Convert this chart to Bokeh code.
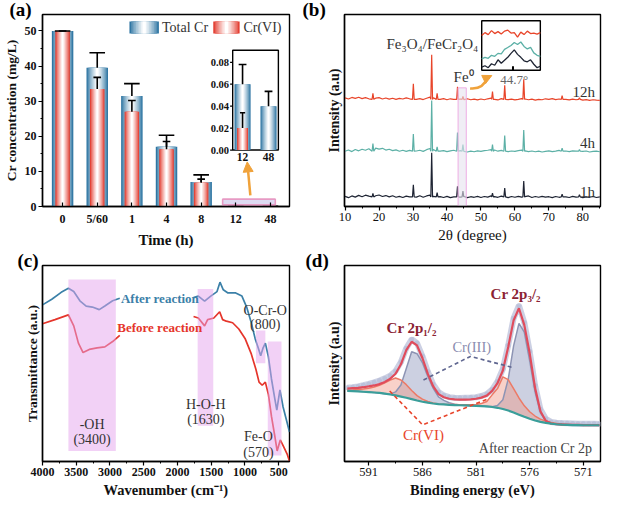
from bokeh.plotting import figure
from bokeh.layouts import gridplot
from bokeh.models import Range1d, FixedTicker, Title, Arrow, NormalHead
from bokeh.core.properties import value
from bokeh.embed import file_html
from bokeh.resources import INLINE

NAN = float("nan")
SERIF = "Liberation Serif"

# ---------------- (a) Cr removal ----------------
time_labels = ["0", "5/60", "1", "4", "8", "12", "48"]
total_cr = [50.0, 39.5, 31.5, 17.0, 7.0, 0.06, 0.04]
total_cr_err = [0.0, 4.3, 3.5, 3.3, 2.0, 0.018, 0.0135]
cr6 = [50.0, 33.5, 27.0, 16.3, 6.8, 0.02, 0.0]
cr6_err = [0.0, 3.3, 3.2, 2.2, 1.0, 0.014, 0.0]
conc_ticks = [0, 10, 20, 30, 40, 50]
conc_minor = [5, 15, 25, 35, 45]
inset_ticks = [0.0, 0.02, 0.04, 0.06, 0.08]
inset_tick_labels = ["0.00", "0.02", "0.04", "0.06", "0.08"]
inset_times = ["12", "48"]

# ---------------- (b) XRD ----------------
two_theta_grid = list(range(10, 86))
xrd_1h_base = [5.3, 4.6, 5.5, 4.9, 5.8, 5.1, 5.9, 5.4, 6.2, 5.6,
               6.0, 5.2, 5.7, 5.0, 5.6, 4.8, 5.3, 4.7, 5.4, 5.0,
               5.2, 4.9, 5.6, 4.8, 5.5, 5.9, 5.3, 5.8, 5.1, 4.7,
               5.3, 4.6, 5.0, 5.4, 4.9, 5.2, 4.6, 5.1, 4.8, 5.3,
               4.7, 5.2, 4.9, 5.5, 5.1, 4.8, 5.4, 5.0, 4.6, 5.2,
               4.8, 5.3, 4.9, 5.1, 5.5, 4.7, 5.2, 4.8, 5.3, 4.9,
               5.1, 4.6, 5.2, 4.8, 5.4, 5.0, 4.7, 5.3, 4.9, 5.1,
               4.6, 5.0, 4.8, 5.2, 4.7, 5.0]
xrd_4h_base = [5.0, 5.6, 4.8, 5.9, 5.2, 6.0, 5.5, 6.3, 5.8, 6.6,
               6.1, 6.5, 5.6, 6.0, 5.3, 5.7, 5.0, 5.5, 4.9, 5.4,
               5.6, 5.1, 5.5, 4.9, 5.8, 6.4, 5.9, 5.4, 5.0, 5.3,
               4.8, 5.2, 5.5, 5.0, 5.3, 4.9, 4.6, 5.0, 4.7, 5.2,
               4.9, 5.3, 5.5, 5.8, 5.6, 5.0, 5.4, 5.6, 4.8, 5.1,
               4.9, 5.3, 5.6, 5.2, 4.8, 5.1, 4.7, 5.0, 4.6, 4.9,
               5.2, 4.8, 5.0, 5.4, 5.6, 5.1, 4.8, 5.2, 5.0, 5.3,
               4.9, 5.1, 4.6, 4.9, 5.0, 4.7]
xrd_12h_base = [5.8, 5.2, 6.0, 5.5, 6.1, 5.4, 5.9, 5.3, 6.2, 5.6,
                5.9, 5.2, 5.7, 5.1, 5.6, 5.0, 5.5, 5.2, 5.8, 5.3,
                5.5, 5.0, 5.4, 4.9, 5.6, 6.2, 5.8, 5.3, 5.0, 5.4,
                4.8, 5.3, 5.0, 5.6, 5.2, 4.9, 5.3, 4.8, 5.1, 4.7,
                5.2, 4.8, 5.3, 5.6, 5.0, 4.7, 5.4, 5.5, 4.9, 5.1,
                4.7, 5.0, 5.4, 5.2, 4.8, 5.1, 4.6, 5.0, 4.8, 5.3,
                5.0, 5.4, 4.9, 5.2, 5.7, 5.0, 4.7, 5.1, 4.8, 5.2,
                4.6, 4.9, 4.5, 4.8, 4.6, 4.5]
xrd_peak_pos = [18.2, 30.1, 35.5, 37.1, 43.1, 44.7, 53.4, 57.0, 62.6, 73.9, 79.0]
xrd_1h_peaks = [6.8, 11.3, 28.0, 7.2, 10.5, 8.0, 6.9, 9.6, 13.3, 6.4, 6.1]
xrd_4h_peaks = [9.0, 13.9, 31.4, 7.2, 14.7, 8.5, 8.5, 13.1, 16.0, 6.6, 5.9]
xrd_12h_peaks = [8.2, 13.1, 28.2, 8.2, 11.5, 6.6, 9.1, 12.3, 15.5, 6.9, 5.8]
xrd_peak_foot = 5.0
xrd_labels = ["1h", "4h", "12h"]
theta_ticks = [10, 20, 30, 40, 50, 60, 70, 80]
theta_minor = [15, 25, 35, 45, 55, 65, 75, 85]
# zoomed view around Fe0 (44.7 deg)
inset_theta = [42.30, 42.55, 42.80, 43.05, 43.30, 43.55, 43.80, 44.05, 44.30, 44.55,
               44.80, 45.05, 45.30, 45.55, 45.80, 46.05, 46.30, 46.55, 46.80]
inset_12h = [7.0, 7.6, 7.2, 8.0, 7.4, 7.8, 7.3, 7.9, 8.1, 7.5,
             7.6, 6.7, 7.7, 7.2, 7.9, 7.4, 7.5, 7.3, 7.6]
inset_4h = [2.3, 2.6, 2.4, 3.0, 2.8, 3.4, 3.3, 4.2, 4.6, 5.0,
            5.6, 5.2, 5.7, 4.8, 4.3, 4.6, 3.5, 3.0, 2.8]
inset_1h = [0.6, 0.9, 0.5, 1.3, 1.0, 2.1, 1.4, 2.0, 2.6, 3.4,
            4.1, 3.2, 2.6, 1.9, 1.7, 2.1, 1.2, 0.5, 0.8]

# ---------------- (c) FTIR ----------------
ftir_after_x = [4000, 3862, 3723, 3616, 3537, 3446, 3353, 3261, 3159, 3076, 2961, 2855, NAN,
                1762, 1691, 1598, 1507, 1414, 1370, 1321, 1252, 1137, 1045, 975, 906, 850,
                804, 767, 731, 698, 652, 607, 560, 528, 482, 435, 375, 340]
ftir_after_y = [79.9, 82.8, 86.3, 88.4, 86.7, 82.0, 79.3, 78.8, 77.5, 79.3, 82.0, 83.3, NAN,
                83.6, 84.4, 81.8, 84.4, 86.7, 91.5, 87.6, 86.0, 86.0, 84.4, 78.8, 70.8, 62.8,
                58.0, 54.0, 58.0, 60.4, 53.3, 42.1, 32.5, 26.2, 36.5, 27.8, 19.8, 15.0]
ftir_before_x = [4000, 3815, 3616, 3537, 3468, 3399, 3307, 3191, 3076, 2961, 2855, NAN,
                 1762, 1691, 1598, 1553, 1461, 1375, 1331, 1276, 1183, 1091, 999, 906, 837,
                 791, 745, 698, 652, 607, 560, 523, 477, 431, 375, 340]
ftir_before_y = [70.3, 72.4, 74.8, 69.2, 60.4, 55.6, 57.2, 58.0, 58.5, 61.2, 64.4, NAN,
                 74.0, 73.2, 69.2, 72.4, 73.2, 76.4, 72.4, 71.6, 70.8, 67.6, 62.8, 54.9, 46.9,
                 40.5, 38.9, 40.5, 34.1, 23.0, 13.4, 5.4, 11.0, 7.8, 3.8, 0.2]
wn_ticks = [4000, 3500, 3000, 2500, 2000, 1500, 1000, 500]
wn_minor = [3750, 3250, 2750, 2250, 1750, 1250, 750]
band_names = [["-OH", "(3400)"], ["H-O-H", "(1630)"], ["O-Cr-O", "(800)"], ["Fe-O", "(570)"]]
band_left = [3616, 1701, 837, 662]
band_right = [2914, 1470, 698, 459]
band_bottom = [5.4, 18.2, 50.1, 3.0]
band_top = [92.8, 88.0, 66.8, 61.2]

# ---------------- (d) XPS Cr 2p ----------------
be = [593.0, 592.5, 592.0, 591.5, 591.0, 590.5, 590.0, 589.5, 589.0, 588.5,
      588.0, 587.5, 587.0, 586.5, 586.0, 585.5, 585.0, 584.5, 584.0, 583.5,
      583.0, 582.5, 582.0, 581.5, 581.0, 580.5, 580.0, 579.5, 579.0, 578.5,
      578.0, 577.5, 577.0, 576.5, 576.0, 575.5, 575.0, 574.5, 574.0, 573.5,
      573.0, 572.5, 572.0, 571.5, 571.0, 570.5, 570.0, 569.5]
xps_raw = [37.6, 37.9, 38.3, 38.9, 39.6, 40.4, 41.3, 42.4, 43.8, 46.2,
           50.8, 57.8, 62.4, 60.4, 53.8, 45.9, 39.4, 35.5, 33.7, 32.8,
           32.5, 32.4, 32.5, 32.6, 32.8, 33.4, 34.4, 36.7, 40.8, 47.2,
           59.3, 73.1, 79.6, 70.9, 56.2, 38.8, 26.7, 21.8, 20.2, 19.8,
           19.6, 19.5, 19.4, 19.3, 19.3, 19.2, 19.2, 19.1]
xps_envelope = [37.2, 37.4, 37.6, 37.9, 38.3, 38.8, 39.5, 40.6, 42.2, 44.8,
                49.6, 56.8, 61.1, 59.2, 52.8, 44.8, 38.4, 34.4, 32.8, 32.0,
                31.7, 31.6, 31.6, 31.7, 32.0, 32.6, 33.6, 36.0, 40.0, 46.4,
                58.4, 72.0, 78.2, 69.6, 55.2, 37.6, 25.6, 20.8, 19.4, 19.0,
                18.9, 18.8, 18.7, 18.7, 18.6, 18.6, 18.6, 18.6]
xps_cr3 = [36.0, 35.9, 35.8, 35.6, 35.4, 35.2, 35.0, 34.6, 34.4, 35.5,
           39.0, 47.5, 56.0, 55.0, 50.5, 43.5, 37.5, 33.0, 31.2, 30.0,
           29.2, 28.8, 28.6, 28.5, 28.4, 28.3, 28.1, 28.0, 28.6, 31.5,
           42.0, 59.0, 70.5, 66.0, 51.5, 35.5, 24.8, 20.6, 19.6, 19.0,
           18.8, 18.7, 18.6, 18.6, 18.5, 18.5, 18.5, 18.5]
xps_cr6 = [36.4, 36.5, 36.7, 37.0, 37.4, 38.0, 38.9, 40.2, 41.5, 42.6,
           41.6, 39.2, 36.2, 33.6, 31.8, 30.6, 29.9, 29.4, 29.2, 29.1,
           29.1, 29.0, 29.0, 29.0, 29.1, 29.6, 30.6, 34.0, 37.2, 43.2,
           41.8, 37.2, 32.4, 28.4, 25.4, 23.2, 21.6, 20.6, 19.9, 19.4,
           18.9, 18.7, 18.6, 18.6, 18.5, 18.5, 18.5, 18.5]
xps_background = [36.0, 35.9, 35.8, 35.6, 35.4, 35.2, 35.0, 34.6, 34.2, 33.7,
                  33.1, 32.5, 31.8, 31.1, 30.5, 30.0, 29.6, 29.3, 29.1, 28.9,
                  28.8, 28.7, 28.6, 28.5, 28.4, 28.3, 28.1, 27.8, 27.4, 26.8,
                  26.0, 25.0, 23.9, 22.8, 21.8, 20.9, 20.2, 19.7, 19.3, 19.0,
                  18.8, 18.7, 18.6, 18.6, 18.5, 18.5, 18.5, 18.5]
be_ticks = [591, 586, 581, 576, 571]
be_minor = [593.5, 588.5, 583.5, 578.5, 573.5]
cr3_pointer_x = [585.9, 581.53, 577.6]
cr3_pointer_y = [41.6, 53.6, 48.0]
cr6_pointer_x = [589.05, 585.98, 579.88]
cr6_pointer_y = [36.0, 18.7, 32.0]

# ---------------- colours ----------------
BLUE = "#2f76a3"
RED = "#e23b2e"
ORANGE = "#f0a23a"
C1H, C4H, C12H = "#1e2433", "#5cb0a6", "#e8452a"
FT_BLUE, FT_RED = "#3b80a8", "#e5352b"
BAND = "#e6a4ee"


def mix(c1, c2, t):
    a = [int(c1[i:i + 2], 16) for i in (1, 3, 5)]
    b = [int(c2[i:i + 2], 16) for i in (1, 3, 5)]
    return "#%02x%02x%02x" % tuple(round(a[k] + (b[k] - a[k]) * t) for k in range(3))


def txt(p, x, y, s, size, color="#222222", style="normal", align="center", baseline="middle", **rk):
    p.text(x=[x], y=[y], text=[s], text_font=value(SERIF), text_font_size=value("%gpx" % size),
           text_font_style=style, text_color=color, text_align=align, text_baseline=baseline, **rk)


def style_fig(p, xlabel, ylabel, tick_style, xl_style, yl_style, tick_size, xl_size, yl_size):
    p.xgrid.visible = False
    p.ygrid.visible = False
    p.outline_line_color = "black"
    p.outline_line_width = 1.4
    p.outline_line_alpha = 1.0
    p.background_fill_color = "white"
    p.border_fill_color = "white"
    p.xaxis.axis_label = xlabel
    p.yaxis.axis_label = ylabel
    for ax in (p.xaxis[0], p.yaxis[0]):
        ax.axis_line_color = "black"
        ax.axis_line_width = 1.4
        ax.major_tick_line_color = "black"
        ax.major_tick_line_width = 1.2
        ax.minor_tick_line_color = "black"
        ax.major_tick_out = 4
        ax.major_tick_in = 0
        ax.minor_tick_out = 2
        ax.minor_tick_in = 0
        ax.major_label_text_font = SERIF
        ax.major_label_text_font_style = tick_style
        ax.major_label_text_font_size = "%gpx" % tick_size
        ax.major_label_text_color = "#111111"
        ax.major_label_standoff = 2
        ax.axis_label_text_font = SERIF
        ax.axis_label_text_color = "#111111"
        ax.axis_label_standoff = 3
    p.xaxis.axis_label_text_font_style = xl_style
    p.yaxis.axis_label_text_font_style = yl_style
    p.xaxis.axis_label_text_font_size = "%gpx" % xl_size
    p.yaxis.axis_label_text_font_size = "%gpx" % yl_size


def letter(p, s, offset):
    # panel letter as a title with zero panel height (negative standoff),
    # so the text sits in the corner left of the frame
    p.add_layout(Title(text=s, text_font=SERIF, text_font_size="19px", text_font_style="bold",
                       text_color="black", align="left", offset=offset, standoff=-31,
                       vertical_align="top"), "above")


def inset_range(lo, hi, f0, f1):
    span = (hi - lo) / (f1 - f0)
    start = lo - f0 * span
    return Range1d(start, start + span)


def grad_vbars(p, x, top, width, edge, n=9, **rk):
    for i in range(n):
        t = (i / (n - 1)) ** 0.8
        p.vbar(x=x, top=top, bottom=0, width=width * (1 - i / n),
               fill_color=mix(edge, "#ffffff", t), line_color=None, **rk)


def grad_swatch(p, box, edge, n=9):
    x0, x1, y0, y1 = box
    xc, w = (x0 + x1) / 2, (x1 - x0)
    for i in range(n):
        t = (i / (n - 1)) ** 0.8
        half = w * (1 - i / n) / 2
        p.quad(left=[xc - half], right=[xc + half], bottom=[y0], top=[y1],
               fill_color=mix(edge, "#ffffff", t), line_color=None)


def err_bars(p, x, val, err, cap, **rk):
    xs = [a for a, v, e in zip(x, val, err) if v + e > 0]
    lo = [v for v, e in zip(val, err) if v + e > 0]
    hi = [v + e for v, e in zip(val, err) if v + e > 0]
    p.segment(x0=xs, y0=lo, x1=xs, y1=hi, line_color="black", line_width=1.6, **rk)
    p.segment(x0=[a - cap / 2 for a in xs], y0=hi, x1=[a + cap / 2 for a in xs], y1=hi,
              line_color="black", line_width=1.6, **rk)


# ======================= panel (a) =======================
xs_a = list(range(len(time_labels)))
pa = figure(width=300, height=250, x_range=Range1d(-0.58, 6.55), y_range=Range1d(0, 54.7),
            output_backend="svg", toolbar_location=None,
            min_border_left=33, min_border_right=11, min_border_top=14, min_border_bottom=40)
style_fig(pa, "Time (h)", "Cr concentration (mg/L)", "bold", "bold", "bold", 12, 15, 13.5)
pa.xaxis.ticker = FixedTicker(ticks=xs_a)
pa.xaxis.major_label_overrides = {i: s for i, s in enumerate(time_labels)}
pa.xaxis.major_tick_in = 4
pa.xaxis.major_tick_out = 0
pa.xaxis.major_label_standoff = 5
pa.yaxis.ticker = FixedTicker(ticks=conc_ticks, minor_ticks=conc_minor)

grad_vbars(pa, xs_a, total_cr, 0.62, BLUE)
grad_vbars(pa, xs_a, cr6, 0.42, RED)
err_bars(pa, xs_a, total_cr, total_cr_err, 0.45)
err_bars(pa, xs_a, cr6, cr6_err, 0.22)

# highlight box + arrow to the inset
pa.quad(left=[4.62], right=[6.14], bottom=[0.45], top=[2.1], fill_color="#d8d4f0",
        fill_alpha=0.85, line_color="#e79ac4", line_width=1.6)
pa.add_layout(Arrow(end=NormalHead(size=10, fill_color=ORANGE, line_color=ORANGE),
                    x_start=5.42, y_start=3.2, x_end=5.33, y_end=12.7,
                    line_color=ORANGE, line_width=2.5))

# inset (12 h and 48 h)
ix_lo, ix_hi, iy_lo, iy_hi = -0.38, 1.38, 0.0, 0.091
pa.extra_x_ranges = {"ix": inset_range(ix_lo, ix_hi, 0.77, 0.955)}
pa.extra_y_ranges = {"iy": inset_range(iy_lo, iy_hi, 0.294, 0.814)}
IR = dict(x_range_name="ix", y_range_name="iy")
pa.quad(left=[ix_lo], right=[ix_hi], bottom=[iy_lo], top=[iy_hi], fill_color="white",
        line_color="black", line_width=1.4, **IR)
ins_x = [0, 1]
grad_vbars(pa, ins_x, total_cr[5:], 0.62, BLUE, **IR)
grad_vbars(pa, ins_x, cr6[5:], 0.42, RED, **IR)
err_bars(pa, ins_x, total_cr[5:], total_cr_err[5:], 0.3, **IR)
err_bars(pa, ins_x, cr6[5:], cr6_err[5:], 0.2, **IR)
pa.segment(x0=[ix_lo - 0.1] * len(inset_ticks), y0=inset_ticks, x1=[ix_lo] * len(inset_ticks),
           y1=inset_ticks, line_color="black", line_width=1.2, **IR)
pa.text(x=[ix_lo - 0.14] * len(inset_ticks), y=inset_ticks, text=inset_tick_labels,
        text_font=value(SERIF), text_font_size=value("10.5px"), text_font_style="bold",
        text_color="#111111", text_align="right", text_baseline="middle", **IR)
pa.text(x=ins_x, y=[-0.003, -0.003], text=inset_times, text_font=value(SERIF),
        text_font_size=value("11.5px"), text_font_style="bold", text_color="#111111",
        text_align="center", text_baseline="top", **IR)

# legend
grad_swatch(pa, (1.93, 2.78, 49.3, 52.7), BLUE)
grad_swatch(pa, (4.35, 5.11, 49.3, 52.7), RED)
txt(pa, 2.87, 51.0, "Total Cr", 14, color="#333333", align="left")
txt(pa, 5.22, 51.0, "Cr(VI)", 14, color="#333333", align="left")
letter(pa, "(a)", -33)

# ======================= panel (b) =======================
pb = figure(width=302, height=250, x_range=Range1d(9.83, 85.2), y_range=Range1d(0, 100),
            output_backend="svg", toolbar_location=None,
            min_border_left=44, min_border_right=2, min_border_top=14, min_border_bottom=40)
style_fig(pb, "2θ (degree)", "Intensity (a.u)", "normal", "normal", "bold", 12.5, 15, 14)
pb.xaxis.ticker = FixedTicker(ticks=theta_ticks, minor_ticks=theta_minor)
pb.yaxis.ticker = FixedTicker(ticks=[], minor_ticks=[])


def xrd_trace(base, tops, offset):
    hw = 0.25
    pts = [(t, b) for t, b in zip(two_theta_grid, base)
           if all(abs(t - c) > hw for c in xrd_peak_pos)]
    for c, h in zip(xrd_peak_pos, tops):
        pts += [(c - hw, xrd_peak_foot), (c, h), (c + hw, xrd_peak_foot)]
    pts.sort()
    return [q[0] for q in pts], [q[1] + offset for q in pts]


xrd_offsets = [0.0, 23.8, 50.8]
for base, tops, off, col in [(xrd_1h_base, xrd_1h_peaks, xrd_offsets[0], C1H),
                             (xrd_4h_base, xrd_4h_peaks, xrd_offsets[1], C4H),
                             (xrd_12h_base, xrd_12h_peaks, xrd_offsets[2], C12H)]:
    tx, ty = xrd_trace(base, tops, off)
    pb.line(tx, ty, line_color=col, line_width=1.2)

# Fe0 band
pb.quad(left=[43.27], right=[45.68], bottom=[0], top=[61.8], fill_color="#e6e2ee", fill_alpha=0.6,
        line_color="#eeaee4", line_width=1)
for lab, yy in zip(xrd_labels, [7.4, 33.3, 59.5]):
    txt(pb, 83.6, yy, lab, 15, color="#333333", align="right")
txt(pb, 35.7, 84.6, "Fe₃O₄/FeCr₂O₄", 15, color="#333333")
txt(pb, 44.9, 67.4, "Fe⁰", 15, color="#333333")
txt(pb, 59.8, 66.2, "44.7°", 13, color="#666666")
pb.quadratic(x0=[46.8], y0=[61.5], x1=[52.0], y1=[67.3], cx=[50.6], cy=[60.8],
             line_color=ORANGE, line_width=2.5)
pb.add_layout(Arrow(end=NormalHead(size=9, fill_color=ORANGE, line_color=ORANGE),
                    x_start=51.2, y_start=66.5, x_end=53.2, y_end=68.2,
                    line_color=ORANGE, line_width=2.5))

# inset of the Fe0 region
pb.extra_x_ranges = {"ix": inset_range(42.3, 46.8, 0.536, 0.765)}
pb.extra_y_ranges = {"iy": inset_range(0, 10, 0.71, 0.9675)}
IRB = dict(x_range_name="ix", y_range_name="iy")
pb.quad(left=[42.3], right=[46.8], bottom=[0], top=[10], fill_color="white",
        line_color="black", line_width=1.4, **IRB)
pb.line(inset_theta, inset_12h, line_color=C12H, line_width=1.3, **IRB)
pb.line(inset_theta, inset_4h, line_color=C4H, line_width=1.3, **IRB)
pb.line(inset_theta, inset_1h, line_color=C1H, line_width=1.3, **IRB)
pb.segment(x0=[44.7], y0=[0], x1=[44.7], y1=[0.8], line_color="black", line_width=2, **IRB)
letter(pb, "(b)", -42)

# ======================= panel (c) =======================
pc = figure(width=300, height=250, x_range=Range1d(4000, 340), y_range=Range1d(0, 100),
            output_backend="svg", toolbar_location=None,
            min_border_left=25, min_border_right=10, min_border_top=15, min_border_bottom=37)
style_fig(pc, "Wavenumber (cm⁻¹)", "Transmittance (a.u.)", "bold", "bold", "bold", 12, 14.5, 13.5)
pc.xaxis.ticker = FixedTicker(ticks=wn_ticks, minor_ticks=wn_minor)
pc.yaxis.ticker = FixedTicker(ticks=[], minor_ticks=[])
pc.line(ftir_after_x, ftir_after_y, line_color=FT_BLUE, line_width=1.7)
pc.line(ftir_before_x, ftir_before_y, line_color=FT_RED, line_width=1.7)
pc.quad(left=band_left, right=band_right, bottom=band_bottom, top=band_top,
        fill_color=BAND, fill_alpha=0.5, line_color=None)
txt(pc, 2837, 83.3, "After reaction", 13, color=FT_BLUE, style="bold", align="left")
txt(pc, 2892, 68.4, "Before reaction", 13, color=FT_RED, style="bold", align="left")
band_label_pos = [(3265, 19.0, 11.3), (1580, 29.0, 21.5), (700, 77.2, 70.0), (800, 12.8, 4.6)]
for (n1, n2), (bx, y1, y2) in zip(band_names, band_label_pos):
    txt(pc, bx, y1, n1, 14, color="#333333")
    txt(pc, bx, y2, n2, 14, color="#333333")
letter(pc, "(c)", -25)

# ======================= panel (d) =======================
pd = figure(width=302, height=250, x_range=Range1d(593.26, 569.4), y_range=Range1d(0, 100),
            output_backend="svg", toolbar_location=None,
            min_border_left=44, min_border_right=2, min_border_top=15, min_border_bottom=37)
style_fig(pd, "Binding energy (eV)", "Intensity (a.u)", "normal", "bold", "bold", 12.5, 14.5, 14)
pd.xaxis.ticker = FixedTicker(ticks=be_ticks, minor_ticks=be_minor)
pd.yaxis.ticker = FixedTicker(ticks=[], minor_ticks=[])
pd.varea(x=be, y1=xps_background, y2=xps_cr3, fill_color="#a2a9c9", fill_alpha=0.55)
pd.varea(x=be, y1=xps_background, y2=xps_cr6, fill_color="#ef9a88", fill_alpha=0.45)
pd.line(be, xps_raw, line_color="#c6cbe0", line_width=6, line_alpha=0.9)
pd.scatter(be, xps_raw, size=5, fill_color="#b4bad6", line_color=None, fill_alpha=0.7)
pd.line(be, xps_cr3, line_color="#8d94b4", line_width=1.5)
pd.line(be, xps_cr6, line_color="#ec7a66", line_width=1.5)
pd.line(be, xps_envelope, line_color="#e04c5c", line_width=2.2)
pd.line(be, xps_background, line_color="#3a9e9a", line_width=2.2)
pd.line(cr3_pointer_x, cr3_pointer_y, line_color="#5f6690", line_width=1.6, line_dash="4 3")
pd.line(cr6_pointer_x, cr6_pointer_y, line_color="#e8452c", line_width=1.6, line_dash="4 3")
txt(pd, 577.3, 85.6, "Cr 2p₃/₂", 15, color="#8b2232", style="bold")
txt(pd, 587.0, 68.0, "Cr 2p₁/₂", 15, color="#8b2232", style="bold")
txt(pd, 581.4, 58.4, "Cr(III)", 14.5, color="#8a8db0")
txt(pd, 585.9, 13.6, "Cr(VI)", 15, color="#e8452c")
txt(pd, 570.2, 6.6, "After reaction Cr 2p", 14, color="#444444", align="right")
letter(pd, "(d)", -39)

grid = gridplot([[pa, pb], [pc, pd]], toolbar_location=None)
open("out.html", "w").write(file_html(grid, INLINE))
